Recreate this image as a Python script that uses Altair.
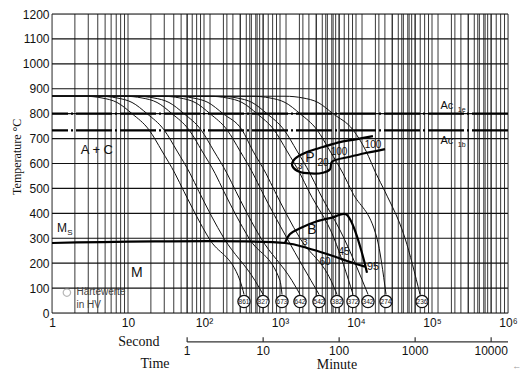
import altair as alt
import pandas as pd

# ---------------- data ----------------
y_ticks = list(range(0, 1300, 100))
x_ticks = [1, 10, 100, 1000, 10000, 100000, 1000000]
x_tick_labels = ["1", "10", "10²", "10³", "10⁴", "10⁵", "10⁶"]
minute_ticks = [1, 10, 100, 1000, 10000]
minute_labels = ["1", "10", "100", "1000", "10000"]

# cooling curves (time in s, temperature in °C)
curve_times = [
    [1, 2.64, 4.55, 7.17, 11.3, 18.9, 28.0, 41.5, 54.6, 116, 298, 336],
    [1, 4.15, 7.17, 11.3, 17.8, 29.8, 44.2, 65.5, 85.9, 183, 469, 597],
    [1, 8.86, 15.3, 24.1, 37.9, 63.5, 94.2, 140, 183, 391, 1000, 1062],
    [1, 12.7, 22.0, 34.6, 54.6, 91.4, 135, 201, 264, 562, 1438, 1833],
    [1, 28.0, 48.3, 76.2, 120, 201, 298, 441, 580, 1236, 3260],
    [1, 41.5, 71.6, 113, 178, 316, 441, 654, 859, 1833, 4690, 5620],
    [1, 116, 201, 316, 498, 834, 1236, 1833, 2410, 5140, 9130],
    [1, 157, 272, 428, 674, 1130, 1675, 2483, 3260, 6950, 14380],
    [1, 428, 738, 1164, 1833, 3069, 4550, 6745, 8850, 18880, 24830],
    [1, 1164, 2009, 3162, 4980, 9130, 13550, 18330, 24100, 44160, 69500],
]
curve_temps = [
    [870, 870, 863, 845, 800, 735, 650, 560, 487, 300, 130, 75],
    [870, 870, 863, 845, 800, 735, 650, 560, 487, 300, 130, 75],
    [870, 870, 863, 845, 800, 735, 650, 560, 487, 300, 130, 75],
    [870, 870, 863, 845, 800, 735, 650, 560, 487, 300, 130, 75],
    [870, 870, 863, 845, 800, 735, 650, 560, 487, 300, 75],
    [870, 870, 863, 845, 800, 735, 650, 560, 487, 300, 130, 75],
    [870, 870, 863, 845, 800, 735, 650, 560, 487, 300, 75],
    [870, 870, 863, 845, 800, 735, 650, 560, 487, 300, 75],
    [870, 870, 863, 845, 800, 735, 650, 560, 487, 300, 75],
    [870, 870, 863, 845, 800, 735, 650, 560, 487, 300, 75],
]

# hardness values (HV) in circles
hardness_labels = ["861", "827", "673", "642", "542", "382", "372", "342", "274", "236"]
hardness_times = [336, 597, 1062, 1833, 3260, 5620, 9130, 14380, 24800, 73900]
hardness_temp = 46

# pearlite region boundary
p_times = [16700, 10300, 6150, 3680, 2266, 1575, 1438, 1675, 2266, 3680, 4550, 4830, 8340, 13960, 24100]
p_temps = [710, 698, 686, 666, 646, 619, 595, 571, 561, 563, 577, 607, 627, 643, 658]

# bainite region: Ms line + lower boundary, and upper boundary
b_low_times = [1, 1164, 2266, 4150, 7620, 13130]
b_low_temps = [281, 281, 261, 237, 209, 186]
b_up_times = [1164, 1355, 1833, 3069, 4980, 7390, 13960]
b_up_temps = [281, 317, 340, 368, 384, 396, 162]

# Ac1 lines
ac1e_temp = 800
ac1b_temp = 733

# annotation texts: (text, time, temp, size)
annotations = [
    ("A + C", 3.9, 654, 13),
    ("P", 2483, 623, 14),
    ("3", 1833, 590, 9),
    ("20", 3680, 603, 10),
    ("100", 5970, 648, 10),
    ("100", 16740, 676, 10),
    ("B", 2636, 332, 14),
    ("3", 2133, 284, 9),
    ("45", 6950, 243, 10),
    ("60", 3910, 203, 10),
    ("95", 16740, 185, 11),
    ("M", 13.1, 161, 14),
    ("M", 1.35, 340, 12),
    ("Ac", 157000, 829, 11),
    ("Ac", 157000, 690, 11),
]
subscripts = [("S", 1.72, 322, 8), ("1e", 246000, 814, 7), ("1b", 246000, 675, 7)]

# ---------------- build tables ----------------
curve_rows = []
for i, (ts, vs) in enumerate(zip(curve_times, curve_temps)):
    for j, (t, v) in enumerate(zip(ts, vs)):
        curve_rows.append({"curve": i, "idx": j, "t": t, "T": v})
curves_df = pd.DataFrame(curve_rows)

grid_vals = []
for k in range(6):
    for m in range(1, 10):
        grid_vals.append(m * 10 ** k)
for k in range(5):
    for m in range(1, 10):
        v = 60 * m * 10 ** k
        if v <= 1e6:
            grid_vals.append(v)
grid_vals.append(1e6)
grid_df = pd.DataFrame({"t": grid_vals})

label_expr = " : ".join(
    f"datum.value == {v} ? '{l}'" for v, l in zip(x_ticks, x_tick_labels)
) + " : ''"

x_axis = alt.Axis(values=x_ticks, labelExpr=label_expr, grid=False, ticks=False,
                  domain=False, labelFont="Liberation Sans", labelFontSize=12,
                  labelColor="#111", labelPadding=4, title=None, labelFlush=False)
y_axis = alt.Axis(values=y_ticks, format="d", grid=False, ticks=False, domain=False,
                  labelFont="Liberation Sans", labelFontSize=12, labelColor="#111",
                  labelPadding=3, title=None)
x_scale = alt.Scale(type="log", domain=[1, 1e6], nice=False)
y_scale = alt.Scale(domain=[0, 1200], nice=False, zero=False)
X = alt.X("t:Q", scale=x_scale, axis=x_axis)
Y = alt.Y("T:Q", scale=y_scale, axis=y_axis)

vgrid = alt.Chart(grid_df).mark_rule(color="#222", strokeWidth=0.9).encode(x=X)
hgrid = alt.Chart(pd.DataFrame({"T": y_ticks})).mark_rule(color="#111", strokeWidth=1.2).encode(y=Y)

ac_df = pd.DataFrame({"T": [ac1e_temp, ac1b_temp]})
ac_lines = alt.Chart(ac_df).mark_rule(color="#000", strokeWidth=2.2, strokeDash=[36, 3, 2, 3]).encode(y=Y)

curves = alt.Chart(curves_df).mark_line(color="#111", strokeWidth=1.0, interpolate="monotone").encode(
    x=X, y=Y, detail="curve:N", order="idx:Q"
)

p_df = pd.DataFrame({"t": p_times, "T": p_temps, "idx": range(len(p_times))})
p_line = alt.Chart(p_df).mark_line(color="#000", strokeWidth=2.2, interpolate="catmull-rom").encode(
    x=X, y=Y, order="idx:Q"
)

b_df = pd.DataFrame(
    [{"part": 0, "idx": i, "t": t, "T": v} for i, (t, v) in enumerate(zip(b_low_times, b_low_temps))]
    + [{"part": 1, "idx": i, "t": t, "T": v} for i, (t, v) in enumerate(zip(b_up_times, b_up_temps))]
)
b_line = alt.Chart(b_df).mark_line(color="#000", strokeWidth=2.2, interpolate="catmull-rom").encode(
    x=X, y=Y, detail="part:N", order="idx:Q"
)

h_df = pd.DataFrame({"t": hardness_times, "T": [hardness_temp] * len(hardness_times), "label": hardness_labels})
h_circles = alt.Chart(h_df).mark_point(shape="circle", size=150, filled=True, fill="white",
                                       stroke="#111", strokeWidth=1.3, opacity=1).encode(x=X, y=Y)
h_text = alt.Chart(h_df).mark_text(font="Liberation Sans", fontSize=6.5, color="#111").encode(
    x=X, y=Y, text="label:N")

ann_df = pd.DataFrame(annotations, columns=["text", "t", "T", "size"])
ann = alt.Chart(ann_df).mark_text(font="Liberation Sans", color="#111").encode(
    x=X, y=Y, text="text:N", size=alt.Size("size:Q", scale=None, legend=None))
sub_df = pd.DataFrame(subscripts, columns=["text", "t", "T", "size"])
subs = alt.Chart(sub_df).mark_text(font="Liberation Sans", color="#111").encode(
    x=X, y=Y, text="text:N", size=alt.Size("size:Q", scale=None, legend=None))

legend_c = alt.Chart(pd.DataFrame({"t": [1.57], "T": [82]})).mark_point(
    shape="circle", size=55, stroke="#999", strokeWidth=1.2).encode(x=X, y=Y)
legend_t = alt.Chart(pd.DataFrame({"t": [2.1, 2.1], "T": [84, 32], "text": ["Härtewerte", "in HV"]})).mark_text(
    font="Liberation Sans", fontSize=10, color="#444", align="left").encode(x=X, y=Y, text="text:N")

# minute axis drawn below the plot (minutes converted to seconds)
min_sec = [m * 60 for m in minute_ticks]
min_line = alt.Chart(pd.DataFrame({"t": [60], "t2": [1e6], "T": [-116]})).mark_rule(
    color="#333", strokeWidth=1.2).encode(x=X, x2="t2:Q", y=Y)
min_ticks = alt.Chart(pd.DataFrame({"t": min_sec, "T": [-116] * 5, "T2": [-97] * 5})).mark_rule(
    color="#333", strokeWidth=1.2).encode(x=X, y=Y, y2="T2:Q")
min_labels = alt.Chart(pd.DataFrame({"t": min_sec, "T": [-152] * 5, "text": minute_labels})).mark_text(
    font="Liberation Sans", fontSize=12, color="#111").encode(x=X, y=Y, text="text:N")

titles = alt.Chart(pd.DataFrame({
    "t": [13.9, 22.7, 5620],
    "T": [-116, -204, -210],
    "text": ["Second", "Time", "Minute"],
})).mark_text(font="Liberation Serif", fontSize=14, color="#111").encode(x=X, y=Y, text="text:N")

ytitle = alt.Chart(pd.DataFrame({"t": [0.345], "T": [627], "text": ["Temperature °C"]})).mark_text(
    font="Liberation Serif", fontSize=12, color="#111", angle=270).encode(x=X, y=Y, text="text:N")

arrow = alt.Chart(pd.DataFrame({"t": [1.3e6], "T": [-212], "text": ["←"]})).mark_text(
    fontSize=9, color="#999").encode(x=X, y=Y, text="text:N")

chart = alt.layer(
    vgrid, hgrid, ac_lines, curves, p_line, b_line, h_circles, h_text, ann, subs,
    legend_c, legend_t, min_line, min_ticks, min_labels, titles, ytitle, arrow
).properties(
    width=456, height=299,
    autosize=alt.AutoSizeParams(type="none"),
    padding={"left": 44, "top": 6, "right": 14, "bottom": 59},
).configure_view(stroke="#000", strokeWidth=1.6).configure(background="white")

chart.save("out.html", embed_options={"renderer": "svg", "actions": False})
